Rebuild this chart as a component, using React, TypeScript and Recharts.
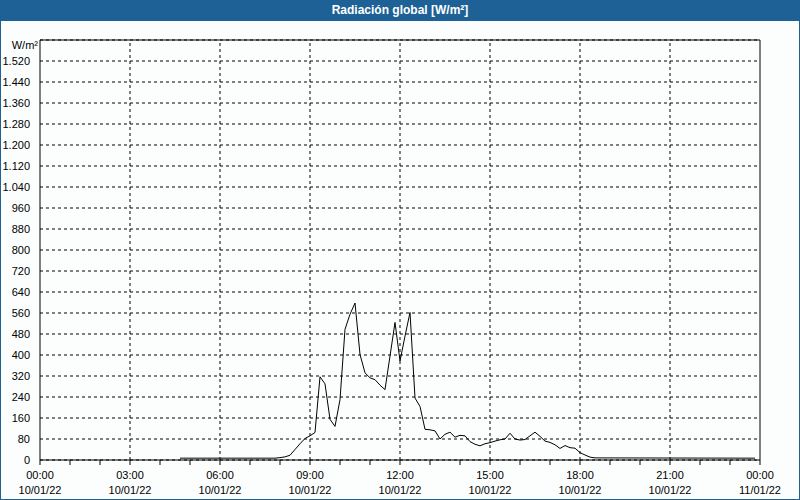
import React from "react";
import {
  LineChart,
  Line,
  XAxis,
  YAxis,
  CartesianGrid,
  ReferenceLine,
} from "recharts";

// minutes since 00:00 of 10/01/22
const MINUTES = [
  280, 470, 480, 490, 500, 510, 520, 530, 540, 550, 560, 570, 580, 590, 600,
  610, 620, 630, 640, 650, 660, 670, 680, 690, 700, 710, 720, 730, 740, 750,
  760, 770, 780, 790, 800, 810, 820, 830, 840, 850, 860, 870, 880, 890, 900,
  910, 920, 930, 940, 950, 960, 970, 980, 990, 1000, 1010, 1020, 1030, 1040,
  1050, 1060, 1070, 1080, 1090, 1100, 1110, 1430,
];
// W/m²
const RADIATION = [
  7, 7, 9, 12, 18, 40, 62, 82, 92, 105, 317, 290, 155, 128, 230,
  498, 555, 598, 402, 332, 313, 306, 285, 268, 396, 524, 377, 472, 562, 236,
  204, 117, 115, 111, 80, 98, 106, 87, 94, 92, 70, 60, 54, 62, 66,
  72, 77, 80, 102, 80, 76, 78, 92, 106, 90, 72, 67, 58, 44,
  55, 47, 45, 28, 19, 11, 8, 7,
];

const X_TICKS = Array.from({ length: 25 }, (_, i) => i * 60);
const X_GRID = [180, 360, 540, 720, 900, 1080, 1260];
const Y_TICKS = Array.from({ length: 20 }, (_, i) => i * 80);
const TIME_LABELS: Record<number, [string, string]> = {
  0: ["00:00", "10/01/22"],
  180: ["03:00", "10/01/22"],
  360: ["06:00", "10/01/22"],
  540: ["09:00", "10/01/22"],
  720: ["12:00", "10/01/22"],
  900: ["15:00", "10/01/22"],
  1080: ["18:00", "10/01/22"],
  1260: ["21:00", "10/01/22"],
  1440: ["00:00", "11/01/22"],
};

const data = MINUTES.map((t, i) => ({ t, v: RADIATION[i] }));

const BLUE = "#1e6196";
const FONT = "'Liberation Sans', Arial, sans-serif";

function fmtY(v: number) {
  if (v < 1000) return String(v);
  return `${Math.floor(v / 1000)}.${String(v % 1000).padStart(3, "0")}`;
}

function TimeTick(props: any) {
  const { x, y, payload } = props;
  const lbl = TIME_LABELS[payload.value];
  if (!lbl) return null;
  return (
    <text x={x} y={y} textAnchor="middle" fontSize={11} fontFamily={FONT} fill="#000">
      <tspan x={x} dy={12}>{lbl[0]}</tspan>
      <tspan x={x} dy={15}>{lbl[1]}</tspan>
    </text>
  );
}

export default function App() {
  return (
    <div
      style={{
        position: "relative",
        width: 800,
        height: 500,
        background: "#fcfefe",
        fontFamily: FONT,
      }}
    >
      <style>{`body{margin:0}`}</style>
      <LineChart
        width={800}
        height={500}
        data={data}
        margin={{ top: 40, right: 40, bottom: 0, left: 0 }}
      >
        <CartesianGrid vertical={false} stroke="#000" strokeDasharray="3 3" />
        {X_GRID.map((x) => (
          <ReferenceLine key={x} x={x} stroke="#000" strokeDasharray="3 3" />
        ))}
        <ReferenceLine x={1440} stroke="#000" />
        <ReferenceLine y={1600} stroke="#000" />
        <XAxis
          type="number"
          dataKey="t"
          domain={[0, 1440]}
          ticks={X_TICKS}
          interval={0}
          height={40}
          stroke="#000"
          tickSize={5}
          tick={<TimeTick />}
        />
        <YAxis
          type="number"
          domain={[0, 1600]}
          ticks={Y_TICKS}
          interval={0}
          width={40}
          stroke="#000"
          tickLine={false}
          tickMargin={4}
          tickFormatter={fmtY}
          tick={{ fontSize: 11, fontFamily: FONT, fill: "#000" }}
        />
        <Line
          type="linear"
          dataKey="v"
          stroke="#000"
          strokeWidth={1}
          dot={false}
          isAnimationActive={false}
        />
      </LineChart>
      <div
        style={{
          position: "absolute",
          left: 0,
          top: 39,
          width: 38,
          textAlign: "right",
          fontSize: 11,
          color: "#000",
        }}
      >
        W/m²
      </div>
      <div
        style={{
          position: "absolute",
          left: 0,
          top: 0,
          width: 800,
          height: 21,
          background: BLUE,
          color: "#fff",
          fontWeight: "bold",
          fontSize: 12,
          lineHeight: "21px",
          textAlign: "center",
        }}
      >
        Radiación global [W/m²]
      </div>
      <div
        style={{
          position: "absolute",
          inset: 0,
          border: `1px solid ${BLUE}`,
          pointerEvents: "none",
        }}
      />
    </div>
  );
}
